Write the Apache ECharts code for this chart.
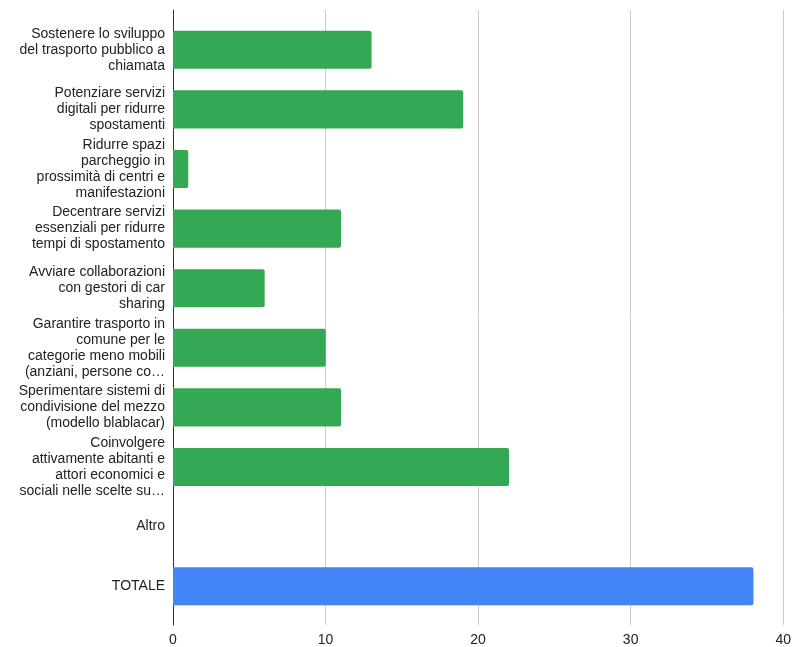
<!DOCTYPE html>
<html>
<head>
<meta charset="utf-8">
<script src="https://cdn.jsdelivr.net/npm/echarts@6/dist/echarts.min.js"></script>
<style>
  html, body { margin: 0; padding: 0; background: #fff; }
  #chart { width: 794px; height: 647px; }
</style>
</head>
<body>
<div id="chart"></div>
<script>
// Proposte per la mobilità: numero di preferenze
const categories = [
  "Sostenere lo sviluppo\ndel trasporto pubblico a\nchiamata",
  "Potenziare servizi\ndigitali per ridurre\nspostamenti",
  "Ridurre spazi\nparcheggio in\nprossimità di centri e\nmanifestazioni",
  "Decentrare servizi\nessenziali per ridurre\ntempi di spostamento",
  "Avviare collaborazioni\ncon gestori di car\nsharing",
  "Garantire trasporto in\ncomune per le\ncategorie meno mobili\n(anziani, persone co…",
  "Sperimentare sistemi di\ncondivisione del mezzo\n(modello blablacar)",
  "Coinvolgere\nattivamente abitanti e\nattori economici e\nsociali nelle scelte su…",
  "Altro",
  "TOTALE"
];
const values = [13, 19, 1, 11, 6, 10, 11, 22, 0, 38];
const xTicks = [0, 10, 20, 30, 40];

const GREEN = '#34a853';
const BLUE = '#4285f4';
const totalIndex = categories.indexOf('TOTALE');

const chart = echarts.init(document.getElementById('chart'), null, { renderer: 'canvas' });

const xMin = xTicks[0];
const xMax = xTicks[xTicks.length - 1];
const xStep = xTicks[1] - xTicks[0];
const FONT = '"Liberation Sans", Arial, sans-serif';

chart.setOption({
  animation: false,
  textStyle: { fontFamily: FONT },
  grid: [
    // frame: gridlines, tick labels and the vertical axis line
    { left: 173, right: 10, top: 10, bottom: 20, containLabel: false },
    // bars and category labels
    { left: 173, right: 10, top: 20, bottom: 31, containLabel: false }
  ],
  xAxis: [
    {
      gridIndex: 0, type: 'value', min: xMin, max: xMax, interval: xStep,
      axisLine: { show: false }, axisTick: { show: false },
      splitLine: { show: true, lineStyle: { color: '#cccccc', width: 1 } },
      axisLabel: { color: '#222', fontSize: 14, margin: 8, fontFamily: FONT }
    },
    {
      gridIndex: 1, type: 'value', min: xMin, max: xMax, interval: xStep,
      show: false
    }
  ],
  yAxis: [
    {
      gridIndex: 0, type: 'value', min: 0, max: 1,
      axisLine: { show: true, onZero: false, lineStyle: { color: '#333', width: 1 } },
      axisTick: { show: false }, axisLabel: { show: false }, splitLine: { show: false }
    },
    {
      gridIndex: 1, type: 'category', data: categories, inverse: true,
      axisLine: { show: false }, axisTick: { show: false }, splitLine: { show: false },
      axisLabel: {
        color: '#222', fontSize: 14, lineHeight: 16, margin: 8, align: 'right',
        fontFamily: FONT
      }
    }
  ],
  series: [{
    type: 'bar',
    xAxisIndex: 1, yAxisIndex: 1,
    barCategoryGap: '36%',
    data: values.map((v, i) => ({
      value: v,
      itemStyle: { color: i === totalIndex ? BLUE : GREEN, borderRadius: [0, 2, 2, 0] }
    }))
  }]
});
</script>
</body>
</html>
